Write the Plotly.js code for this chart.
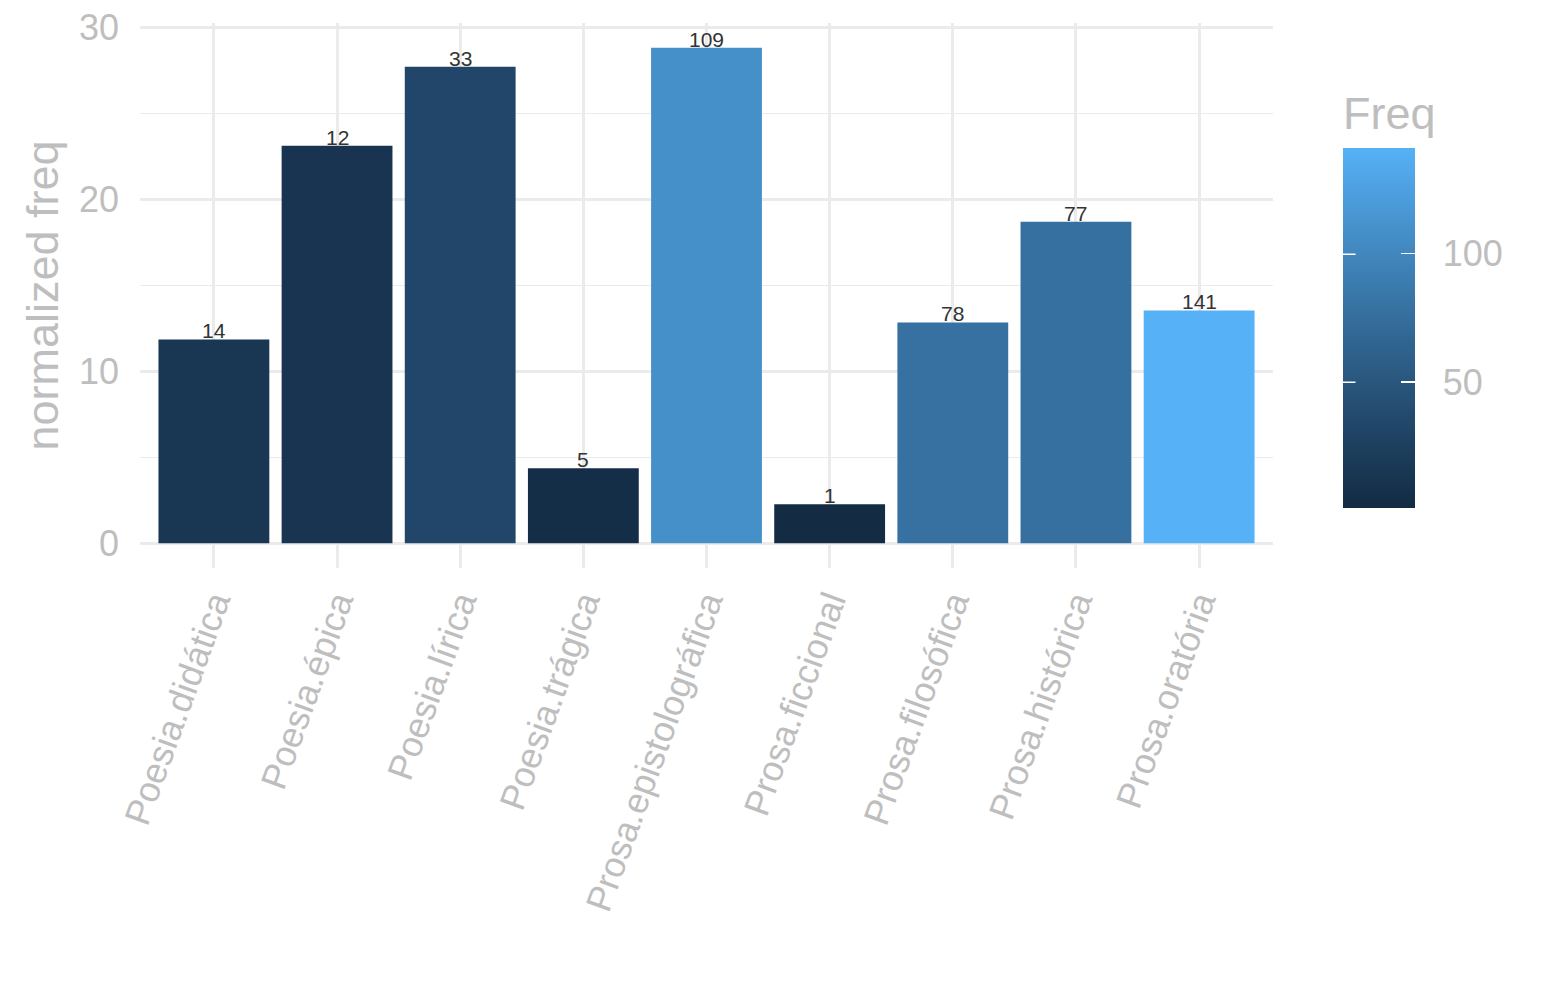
<!DOCTYPE html>
<html>
<head>
<meta charset="utf-8">
<script src="https://cdn.plot.ly/plotly-3.0.1.min.js"></script>
<style>html,body{margin:0;padding:0;background:#fff;}#chart{width:1545px;height:1000px;}</style>
</head>
<body>
<div id="chart"></div>
<script>
// ---- data ----
const categories = ["Poesia.didática","Poesia.épica","Poesia.lírica","Poesia.trágica","Prosa.epistolográfica","Prosa.ficcional","Prosa.filosófica","Prosa.histórica","Prosa.oratória"];
const normFreq = [11.86, 23.14, 27.73, 4.36, 28.84, 2.27, 12.85, 18.72, 13.55];
const freq = [14, 12, 33, 5, 109, 1, 78, 77, 141];
const yTicks = [0, 10, 20, 30];
const cbTicks = [50, 100];

// ---- ggplot-like Lab gradient ----
function s2l(c){c/=255;return c<=0.04045?c/12.92:Math.pow((c+0.055)/1.055,2.4);}
function l2s(c){c=c<=0.0031308?12.92*c:1.055*Math.pow(c,1/2.4)-0.055;return Math.max(0,Math.min(255,Math.round(c*255)));}
const Wn=[0.95047,1,1.08883];
function f(t){return t>0.008856?Math.cbrt(t):7.787*t+16/116;}
function fi(t){return t>0.206893?t*t*t:(t-16/116)/7.787;}
function hex2lab(h){const r=s2l(parseInt(h.substr(1,2),16)),g=s2l(parseInt(h.substr(3,2),16)),b=s2l(parseInt(h.substr(5,2),16));
 const X=(0.4124*r+0.3576*g+0.1805*b)/Wn[0],Y=(0.2126*r+0.7152*g+0.0722*b)/Wn[1],Z=(0.0193*r+0.1192*g+0.9505*b)/Wn[2];
 const fx=f(X),fy=f(Y),fz=f(Z);return [116*fy-16,500*(fx-fy),200*(fy-fz)];}
function lab2rgb(L,a,b){const fy=(L+16)/116,fx=fy+a/500,fz=fy-b/200;const X=fi(fx)*Wn[0],Y=fi(fy)*Wn[1],Z=fi(fz)*Wn[2];
 const r=3.2406*X-1.5372*Y-0.4986*Z,g=-0.9689*X+1.8758*Y+0.0415*Z,bb=0.0557*X-0.2040*Y+1.0570*Z;
 return 'rgb('+l2s(r)+','+l2s(g)+','+l2s(bb)+')';}
const lo=hex2lab('#132B43'),hi=hex2lab('#56B1F7');
const colorscale=[];
for(let i=0;i<=20;i++){const t=i/20;colorscale.push([t,lab2rgb(lo[0]+(hi[0]-lo[0])*t,lo[1]+(hi[1]-lo[1])*t,lo[2]+(hi[2]-lo[2])*t)]);}

const cmin=Math.min(...freq), cmax=Math.max(...freq);
const ymax=Math.max(...normFreq);
const txtColor='#BEBEBE';
const font="Liberation Sans, Arial, Helvetica, sans-serif";

// geometry of panel / colorbar (pixels)
const W=1545,H=1000,ml=140,mr=272,mt=23,mb=432;
const pw=W-ml-mr, ph=H-mt-mb;
const cbLeft=1343, cbTop=149, cbBottom=508, cbThick=72, cbTitleSpace=57;

const barTrace={
  type:'bar', x:categories, y:normFreq, width:0.9,
  marker:{color:freq, colorscale:colorscale, cmin:cmin, cmax:cmax, line:{width:0},
    colorbar:{
      title:{text:'Freq', side:'top', font:{size:45,color:txtColor,family:font}},
      thickness:cbThick, thicknessmode:'pixels',
      len:cbBottom-cbTop+cbTitleSpace, lenmode:'pixels',
      x:(cbLeft-ml)/pw, xref:'paper', xanchor:'left',
      y:(H-mb-cbBottom)/ph, yref:'paper', yanchor:'bottom',
      xpad:0, ypad:0, outlinewidth:0,
      tickvals:cbTicks, ticktext:cbTicks.map(v=>'\u00A0\u00A0'+v),
      ticks:'inside', ticklen:14, tickwidth:1.5, tickcolor:'#FFFFFF',
      tickfont:{size:36,color:txtColor,family:font}
    }},
  hoverinfo:'skip', showlegend:false
};

const annotations=categories.map((c,i)=>({x:c,y:normFreq[i],text:String(freq[i]),showarrow:false,
  xanchor:'center',yanchor:'bottom',yshift:-5,font:{size:21,color:'#333333',family:font}}));

// white tick marks on the left inner side of the colorbar (decoration)
cbTicks.forEach(v=>{
  const py=cbBottom-(v-cmin)/(cmax-cmin)*(cbBottom-cbTop);
  annotations.push({xref:'paper',yref:'paper',x:(cbLeft-ml)/pw,y:1-(py-mt)/ph,text:'',
    showarrow:true,arrowhead:0,arrowwidth:1.5,arrowcolor:'#FFFFFF',ax:14,ay:0,standoff:0,startstandoff:0});
});

const layout={
  width:W,height:H,
  margin:{l:ml,r:mr,t:mt,b:mb,pad:0},
  paper_bgcolor:'#FFFFFF',plot_bgcolor:'#FFFFFF',
  font:{family:font,color:txtColor},
  xaxis:{type:'category',range:[-0.6,categories.length-0.4],showgrid:true,gridcolor:'#EBEBEB',gridwidth:3,
    zeroline:false,showline:false,ticks:'',tickangle:-70,ticklabelstandoff:5,tickfont:{size:36,color:txtColor,family:font},
    automargin:false,fixedrange:true},
  yaxis:{range:[-0.05*ymax,1.05*ymax],tickvals:yTicks,showgrid:true,gridcolor:'#EBEBEB',gridwidth:3,
    minor:{dtick:5,tick0:0,showgrid:true,gridcolor:'#EBEBEB',gridwidth:1.5,ticks:''},
    zeroline:false,showline:false,ticks:'',ticklabelstandoff:20,tickfont:{size:36,color:txtColor,family:font},
    title:{text:'normalized freq',font:{size:45,color:txtColor,family:font},standoff:6},
    automargin:false,fixedrange:true},
  bargap:0.1,
  annotations:annotations,
  showlegend:false,hovermode:false
};

Plotly.newPlot('chart',[barTrace],layout,{displayModeBar:false,staticPlot:true});
</script>
</body>
</html>
